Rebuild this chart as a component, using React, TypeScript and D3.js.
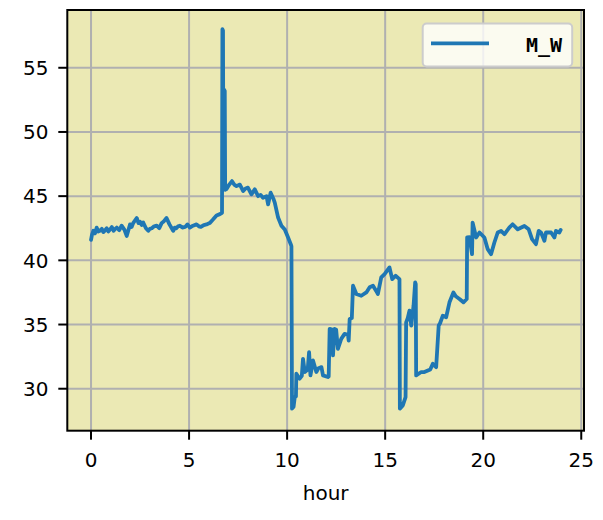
import React from "react";
import * as d3 from "d3";

const hours = [
  0.0, 0.05, 0.12, 0.2, 0.29, 0.37, 0.45, 0.55, 0.63, 0.72, 0.8, 0.88, 0.97, 1.06, 1.15, 1.23, 1.31, 1.44, 1.56, 1.7, 1.82, 1.99, 2.07, 2.15, 2.24, 2.33, 2.42, 2.5, 2.58, 2.66, 2.8, 2.92,
  3.0, 3.1, 3.22, 3.35, 3.48, 3.6, 3.72, 3.85, 4.0, 4.19, 4.27, 4.35, 4.44, 4.53, 4.66, 4.8, 4.92, 5.04, 5.2, 5.38, 5.5, 5.6, 5.75, 5.89, 6.05, 6.14, 6.23, 6.4, 6.57, 6.68, 6.7,
  6.73, 6.75, 6.78, 6.82, 6.84, 6.91, 7.05, 7.19, 7.3, 7.42, 7.59, 7.76, 7.88, 8.0, 8.18, 8.35, 8.52, 8.65, 8.77, 8.95,
  9.03, 9.16, 9.3, 9.37, 9.54, 9.71, 9.88, 10.05, 10.2, 10.22, 10.25, 10.33, 10.39, 10.45, 10.47, 10.64, 10.75, 10.81, 10.9, 11.05,
  11.12, 11.19, 11.32, 11.49, 11.6, 11.75, 11.83, 12.08, 12.12, 12.17, 12.3, 12.34, 12.42, 12.5, 12.59, 12.76, 12.93, 13.1, 13.14, 13.19,
  13.3, 13.36, 13.53, 13.78, 14.04, 14.21, 14.38, 14.55, 14.63, 14.8, 14.97, 15.1, 15.22, 15.36, 15.53, 15.73, 15.75, 15.9, 16.04, 16.07,
  16.15, 16.24, 16.33, 16.45, 16.53, 16.56, 16.58, 16.84, 17.0, 17.18, 17.3, 17.43, 17.6, 17.73, 17.8, 17.94, 18.11, 18.28, 18.48, 18.6,
  18.79, 18.99, 19.16, 19.18, 19.3, 19.43, 19.46, 19.64, 19.81, 20.06, 20.23, 20.4, 20.57, 20.74, 20.91, 21.08, 21.33, 21.5, 21.76, 22.1,
  22.32, 22.49, 22.69, 22.83, 22.95, 23.12, 23.2, 23.46, 23.63, 23.71, 23.88, 23.95,
];

const mw = [
  41.6, 42.0, 42.3, 42.1, 42.55, 42.25, 42.3, 42.45, 42.2, 42.35, 42.5, 42.25, 42.4, 42.6, 42.3, 42.45, 42.55, 42.35, 42.7, 42.4, 41.9, 42.8, 42.6, 42.9, 43.1, 43.3, 42.9, 43.0, 42.75, 42.95, 42.5, 42.3,
  42.45, 42.5, 42.65, 42.7, 42.5, 42.9, 43.05, 43.3, 42.8, 42.3, 42.55, 42.5, 42.65, 42.7, 42.55, 42.6, 42.8, 42.55, 42.7, 42.8, 42.65, 42.6, 42.75, 42.8, 42.9, 43.05, 43.2, 43.5, 43.6, 43.7, 58.0,
  57.9, 46.0, 53.3, 53.2, 45.5, 45.55, 45.9, 46.17, 45.9, 45.78, 45.9, 45.4, 45.6, 45.66, 45.14, 45.53, 45.0, 45.1, 44.88, 45.0,
  44.36, 45.27, 44.8, 44.5, 43.33, 42.7, 42.4, 41.78, 41.2, 41.1, 28.45, 28.6, 29.35, 29.4, 31.17, 30.78, 31.0, 32.33, 31.3, 31.5,
  32.85, 31.04, 32.2, 31.3, 31.6, 31.68, 31.04, 30.91, 30.95, 34.66, 34.6, 32.6, 34.66, 34.6, 33.1, 33.88, 34.27, 34.2, 33.75, 35.43,
  35.5, 38.02, 37.38, 37.24, 37.5, 37.9, 38.02, 37.6, 37.38, 38.67, 38.93, 39.2, 39.45, 38.54, 38.8, 38.54, 28.45, 28.7, 29.35, 35.17,
  35.5, 36.08, 34.92, 36.5, 38.28, 38.15, 31.04, 31.3, 31.3, 31.42, 31.5, 31.94, 31.68, 34.92, 35.1, 35.69, 35.57, 36.73, 37.5, 37.2,
  36.99, 36.73, 36.99, 41.78, 41.8, 40.48, 42.94, 41.78, 42.17, 41.78, 40.87, 40.48, 41.39, 42.17, 42.29, 42.03, 42.55, 42.81, 42.42, 42.68,
  42.42, 41.65, 41.26, 42.29, 42.17, 41.52, 42.17, 42.17, 41.78, 42.29, 42.17, 42.37,
];

const xTicks = [0, 5, 10, 15, 20, 25];
const yTicks = [30, 35, 40, 45, 50, 55];
const seriesName = "M_W";
const xLabel = "hour";

const W = 603;
const H = 520;
const L = 67.3;
const R = 584;
const T = 10;
const B = 430.7;
const FONT = "'DejaVu Sans', sans-serif";

export default function App() {
  const x = d3.scaleLinear().domain([-1.21, 25.14]).range([L, R]);
  const y = d3.scaleLinear().domain([26.73, 59.5]).range([B, T]);
  const pts = hours.map((h, i) => [h, mw[i]] as [number, number]);
  const line = d3
    .line<[number, number]>()
    .x((d) => x(d[0]))
    .y((d) => y(d[1]));

  return (
    <svg
      width={W}
      height={H}
      style={{ position: "absolute", left: 0, top: 0, background: "#ffffff" }}
    >
      <rect x={L} y={T} width={R - L} height={B - T} fill="#ebe9b4" />
      {xTicks.map((t) => (
        <line key={"gx" + t} x1={x(t)} x2={x(t)} y1={T} y2={B} stroke="#b0b0b0" strokeWidth={2} />
      ))}
      {yTicks.map((t) => (
        <line key={"gy" + t} x1={L} x2={R} y1={y(t)} y2={y(t)} stroke="#b0b0b0" strokeWidth={2} />
      ))}
      <path
        d={line(pts) || ""}
        fill="none"
        stroke="#1f77b4"
        strokeWidth={3.8}
        strokeLinejoin="round"
        strokeLinecap="round"
      />
      <rect x={L} y={T} width={R - L} height={B - T} fill="none" stroke="#000" strokeWidth={2} />
      {xTicks.map((t) => (
        <g key={"tx" + t}>
          <line x1={x(t)} x2={x(t)} y1={B} y2={B + 9} stroke="#000" strokeWidth={2} />
          <text
            x={x(t)}
            y={467.3}
            textAnchor="middle"
            fontFamily={FONT}
            fontSize={20}
            fill="#000"
          >
            {t}
          </text>
        </g>
      ))}
      {yTicks.map((t) => (
        <g key={"ty" + t}>
          <line x1={L - 9} x2={L} y1={y(t)} y2={y(t)} stroke="#000" strokeWidth={2} />
          <text
            x={48.5}
            y={y(t)}
            dy="0.36em"
            textAnchor="end"
            fontFamily={FONT}
            fontSize={20}
            fill="#000"
          >
            {t}
          </text>
        </g>
      ))}
      <text x={(L + R) / 2} y={500} textAnchor="middle" fontFamily={FONT} fontSize={20} fill="#000">
        {xLabel}
      </text>
      <g>
        <rect
          x={422.7}
          y={23.5}
          width={149.5}
          height={43}
          rx={4}
          fill="#ffffff"
          fillOpacity={0.8}
          stroke="#cccccc"
          strokeWidth={2}
        />
        <line x1={431} x2={489} y1={43.3} y2={43.3} stroke="#1f77b4" strokeWidth={3.8} />
        <text
          x={562}
          y={51.5}
          textAnchor="end"
          fontFamily="'DejaVu Sans Mono', monospace"
          fontWeight="bold"
          fontSize={20}
          fill="#000"
        >
          {seriesName}
        </text>
      </g>
    </svg>
  );
}
